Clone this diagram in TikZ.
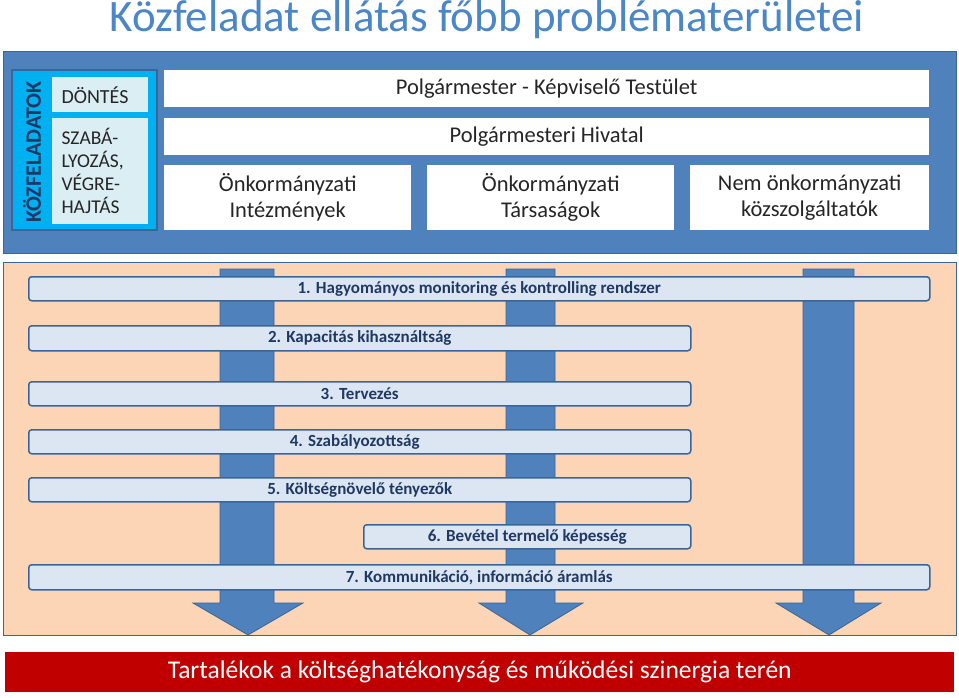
\documentclass[tikz,border=0pt]{standalone}
\usepackage{fontspec}
\setmainfont{Carlito}
\definecolor{tblue}{HTML}{4A86C8}
\definecolor{mblue}{HTML}{4F81BD}
\definecolor{dblue}{HTML}{3A6597}
\definecolor{cyanp}{HTML}{00B0F0}
\definecolor{lcyan}{HTML}{DAEEF3}
\definecolor{lbar}{HTML}{DCE6F2}
\definecolor{orng}{HTML}{FBD5B5}
\definecolor{navy}{HTML}{1F3864}
\definecolor{redb}{HTML}{C00000}
\begin{document}
\begin{tikzpicture}[x=1pt,y=-1pt,
  wbox/.style={fill=white,inner sep=0pt,align=center,font=\fontsize{22.5}{26}\selectfont,text=black!85},
  bar/.style={fill=lbar,draw=dblue,line width=1.5pt,rounded corners=3pt,inner sep=0pt,font=\bfseries\fontsize{17}{18}\selectfont,text=navy},
  arr/.style={fill=mblue,draw=dblue,line width=0.8pt}]
\useasboundingbox (0,0) rectangle (959,698);
\node[text=tblue,font=\fontsize{45}{48}\selectfont] (title) at (487,20) {Közfeladat ellátás főbb problématerületei};
% top panel
\node[fill=mblue,draw=dblue,line width=1pt,minimum width=953,minimum height=201,inner sep=0pt] (top) at (479.5,152.5) {};
\node[fill=cyanp,draw=dblue,line width=1.5pt,minimum width=145,minimum height=160,inner sep=0pt] (cp) at (84.5,150) {};
\node[rotate=90,font=\bfseries\fontsize{22}{24}\selectfont,text=navy] (kf) at (32,152) {KÖZFELADATOK};
\node[fill=lcyan,minimum width=96,minimum height=35,inner sep=0pt,anchor=north west] (dont) at (52,77) {};
\node[anchor=west,font=\fontsize{20}{22}\selectfont,text=black!85] (dt) at (58,95) {DÖNTÉS};
\node[fill=lcyan,minimum width=96,minimum height=106,inner sep=0pt,anchor=north west] (szab) at (52,118) {};
\node[anchor=west,align=left,font=\fontsize{19.5}{23}\selectfont,text=black!85] (szt) at (58,171) {SZABÁ-\\LYOZÁS,\\VÉGRE-\\HAJTÁS};
\node[wbox,minimum width=765,minimum height=37,anchor=north west] (pm) at (164,70) {Polgármester - Képviselő Testület};
\node[wbox,minimum width=765,minimum height=37,anchor=north west] (ph) at (164,118) {Polgármesteri Hivatal};
\node[wbox,minimum width=247,minimum height=65,anchor=north west] (oi) at (164,165) {Önkormányzati\\Intézmények};
\node[wbox,minimum width=247,minimum height=65,anchor=north west] (ot) at (427,165) {Önkormányzati\\Társaságok};
\node[wbox,minimum width=239,minimum height=65,anchor=north west] (nk) at (690,165) {Nem önkormányzati\\közszolgáltatók};
% lower panel
\node[fill=orng,draw=dblue,line width=1.2pt,minimum width=953,minimum height=373,inner sep=0pt,anchor=north west] (low) at (3,262) {};
\foreach \a/\b/\c/\d/\t in {220/274/193/303/248,506/555/479/583/530,803/854/776/881/829}{
  \draw[arr] (\a,269) -- (\b,269) -- (\b,603) -- (\d,603) -- (\t,635) -- (\c,603) -- (\a,603) -- cycle;
}
\node[bar,minimum width=901,minimum height=24,anchor=north west] (b1) at (28,276) {1. Hagyományos monitoring és kontrolling rendszer};
\node[bar,minimum width=662,minimum height=25,anchor=north west] (b2) at (28,325) {2. Kapacitás kihasználtság};
\node[bar,minimum width=662,minimum height=24,anchor=north west] (b3) at (28,381) {3. Tervezés};
\node[bar,minimum width=662,minimum height=24,anchor=north west] (b4) at (28,429) {\hspace*{-10pt}4. Szabályozottság};
\node[bar,minimum width=662,minimum height=24,anchor=north west] (b5) at (28,477) {5. Költségnövelő tényezők};
\node[bar,minimum width=327,minimum height=24,anchor=north west] (b6) at (363,524) {6. Bevétel termelő képesség};
\node[bar,minimum width=901,minimum height=25,anchor=north west] (b7) at (28,564) {7. Kommunikáció, információ áramlás};
\node[fill=redb,minimum width=949,minimum height=40,inner sep=0pt,anchor=north west,text=white,font=\fontsize{25.5}{28}\selectfont] (red) at (5,652) {Tartalékok a költséghatékonyság és működési szinergia terén};
\end{tikzpicture}
\end{document}
